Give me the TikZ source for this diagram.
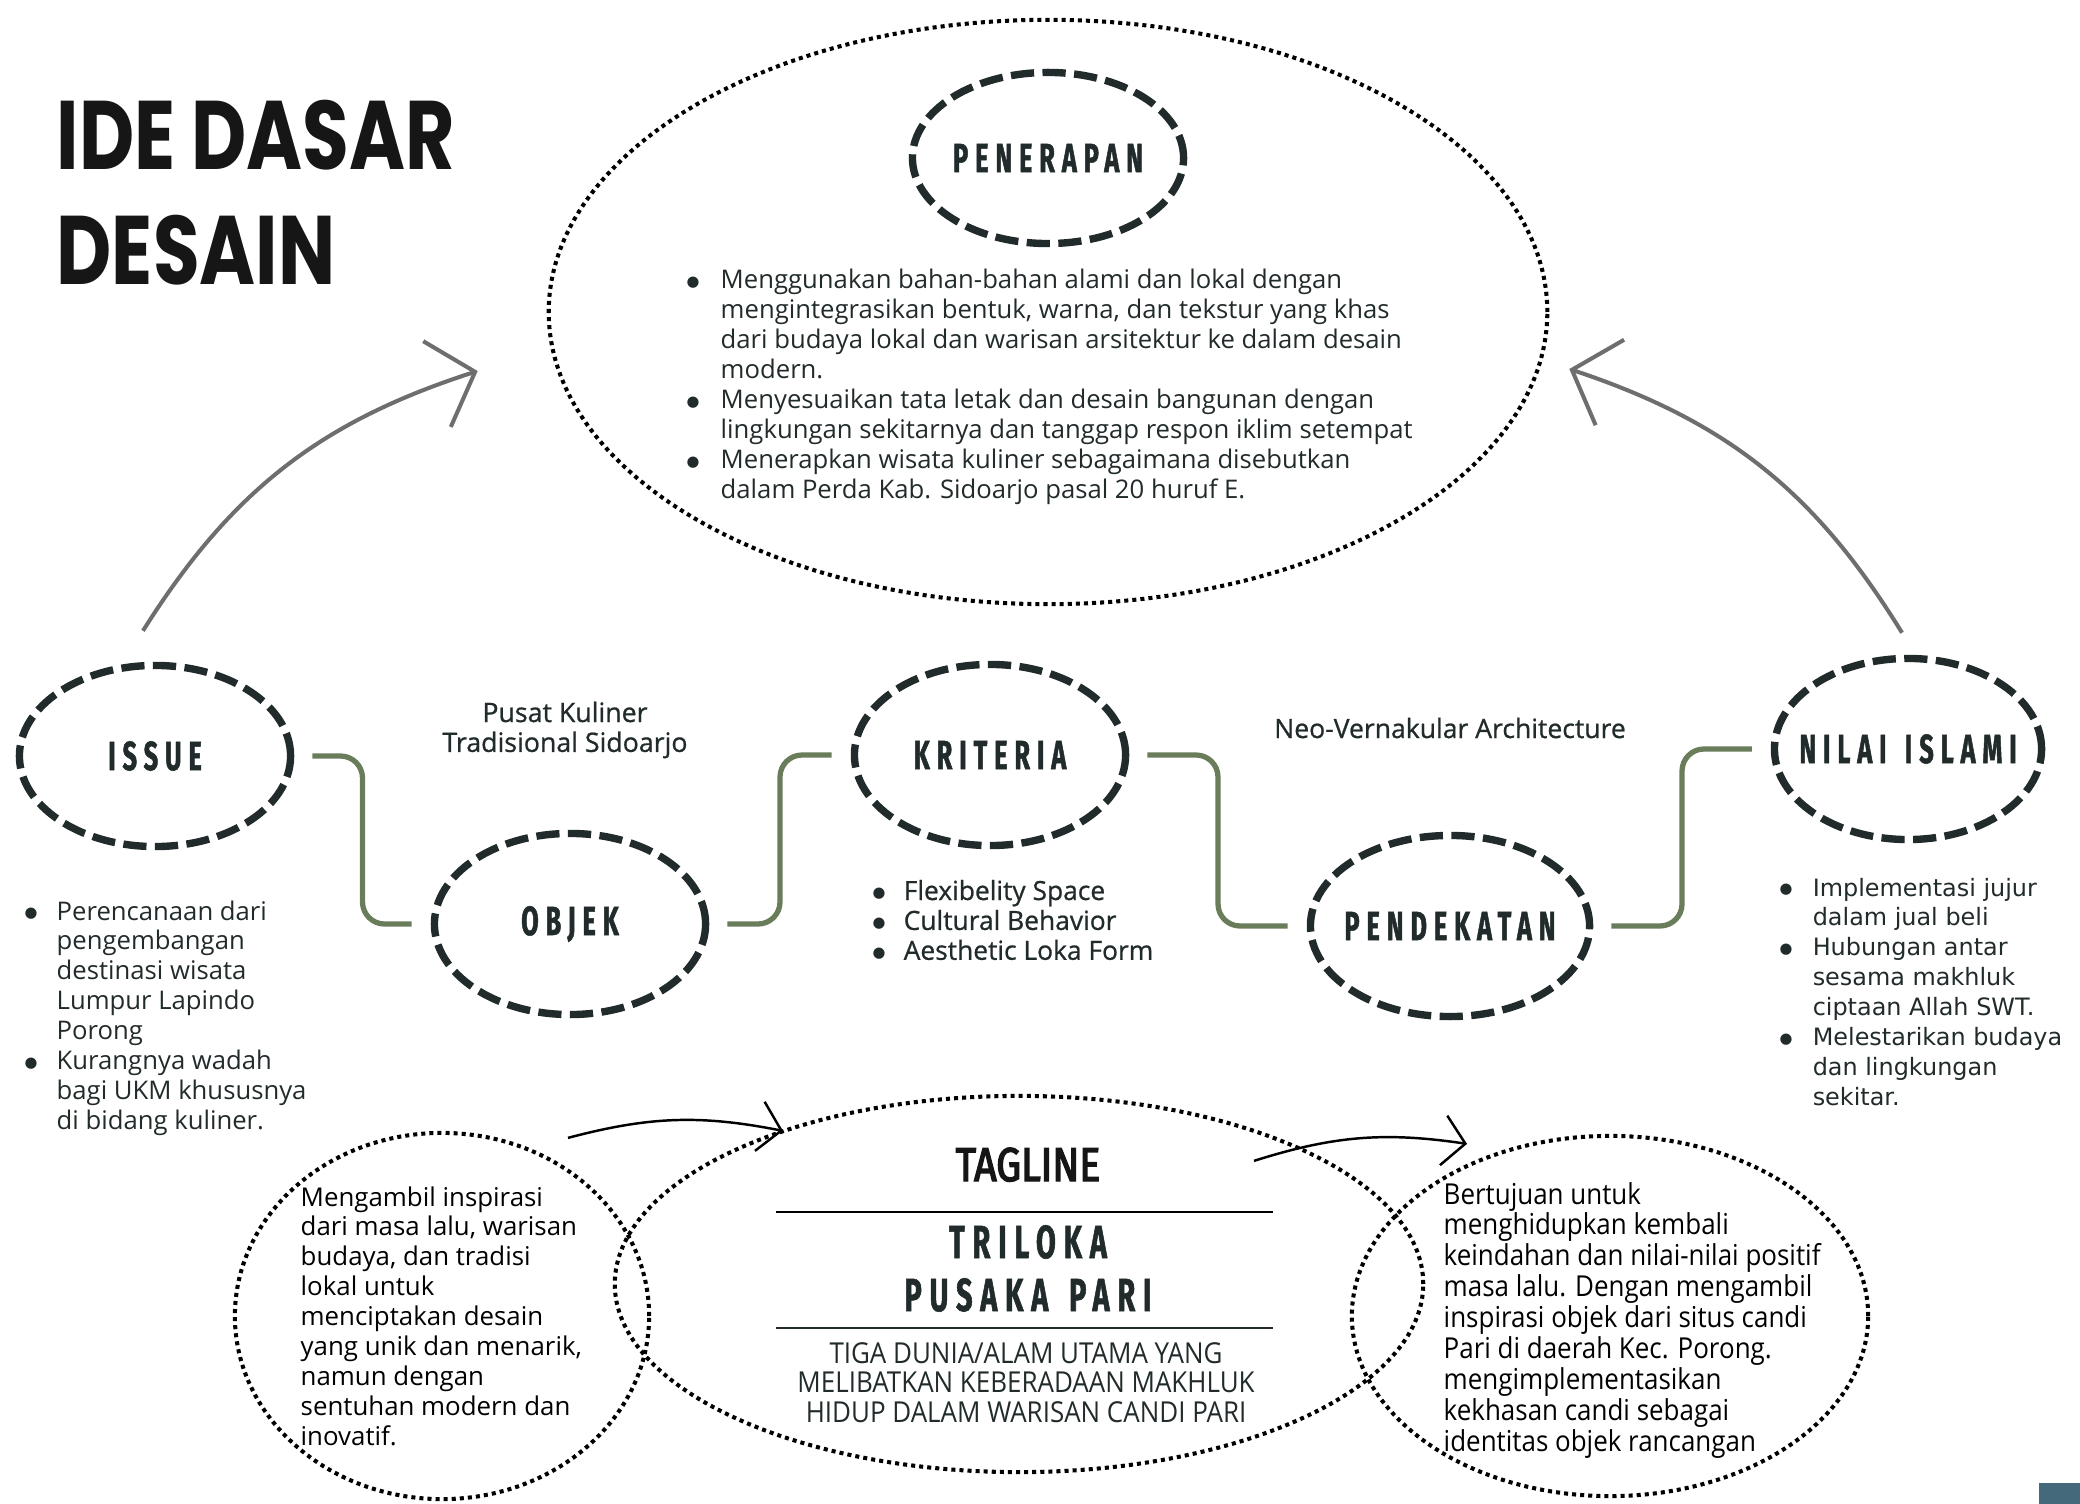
\documentclass[tikz,border=0pt]{standalone}
\usepackage{fontspec}
\setmainfont{Open Sans}
\newfontfamily\judulfont{Poppins}[FakeStretch=0.78]
\newfontfamily\kepala{Fira Sans}[FakeStretch=0.62,LetterSpace=17,FakeBold=1.2]
\newfontfamily\tebal{Fira Sans}[FakeStretch=0.83,FakeBold=3]
\newfontfamily\sempit{Open Sans}[FakeStretch=0.9]
\newfontfamily\agaktebal{Open Sans}[FakeBold=0.8]
\newfontfamily\deja{DejaVu Sans}
\usepackage{tikz}
\usetikzlibrary{calc,positioning,arrows.meta,shapes.geometric}
\definecolor{tinta}{HTML}{222B2B}
\definecolor{hitam}{HTML}{161616}
\definecolor{hijau}{HTML}{6A7D5B}
\definecolor{abu}{HTML}{6E6E6E}
\definecolor{biru}{HTML}{44697A}
\newcommand\bt{\raisebox{0.6pt}{\deja\fontsize{4.2}{5}\selectfont ●}}
\newcommand\jeda{\hspace{0.45em}}

\begin{document}
\begin{tikzpicture}[x=0.01cm,y=-0.01cm,
    lingkar/.style={ellipse, draw=tinta, line width=2.1pt, dash pattern=on 6.6pt off 2.4pt,
      minimum width=2.71cm, minimum height=1.81cm, inner sep=0pt, text=tinta,
      font=\kepala\bfseries\fontsize{11.6}{14}\selectfont},
    titik/.style={ellipse, draw=black, line width=1.15pt, dash pattern=on 1.15pt off 1.15pt, inner sep=0pt},
    garis/.style={draw=hijau, line width=1.5pt, rounded corners=0.22cm, shorten <=0.18cm, shorten >=0.19cm},
    panah/.style={abu, line width=1.15pt, -{Straight Barb[length=0.4cm,width=0.9cm]}},
    panahkecil/.style={black, line width=0.7pt, -{Straight Barb[length=0.22cm,width=0.5cm]}},
    teks/.style={anchor=base west, inner sep=0pt, text=tinta, font=\fontsize{7.3}{8.5}\selectfont},
    judul/.style={anchor=base west, inner sep=0pt, text=hitam, font=\judulfont\bfseries\fontsize{27.7}{33}\selectfont}]
  \useasboundingbox (0,0) rectangle (2080,1504);

  \node[judul] (judul1) at (56,170) {IDE DASAR};
  \node[judul] (judul2) at (56,285) {DESAIN};

  \node[titik, minimum width=9.98cm, minimum height=5.84cm] (wilayah) at (1048,312) {};
  \node[lingkar, minimum height=1.71cm] (penerapan) at (1048,158) {\makebox[0pt]{PENERAPAN}};
  \node[teks] (daftar) at (686,289) {\begin{tabular}[t]{@{}p{0.34cm}@{}l@{}}
    \bt & Menggunakan bahan-bahan alami dan lokal dengan\\
        & mengintegrasikan bentuk, warna, dan tekstur yang khas\\
        & dari budaya lokal dan warisan arsitektur ke dalam desain\\
        & modern.\\
    \bt & Menyesuaikan tata letak dan desain bangunan dengan\\
        & lingkungan sekitarnya dan tanggap respon iklim setempat\\
    \bt & Menerapkan wisata kuliner sebagaimana disebutkan\\
        & dalam Perda Kab. Sidoarjo pasal 20 huruf E.
  \end{tabular}};

  \node[lingkar] (issue) at (155,756) {ISSUE};
  \node[lingkar] (objek) at (570,924) {OBJEK};
  \node[lingkar] (kriteria) at (990,755) {\makebox[0pt]{KRITERIA}};
  \node[lingkar, minimum width=2.79cm] (pendekatan) at (1450,926) {\makebox[0pt]{PENDEKATAN}};
  \node[lingkar, minimum width=2.67cm] (nilai) at (1908,749) {\makebox[0pt]{NILAI\jeda ISLAMI}};

  \draw[garis] (issue.east) -| ($(issue.east)!0.5!(objek.west)$) |- (objek.west);
  \draw[garis] (objek.east) -| ($(objek.east)!0.5!(kriteria.west)$) |- (kriteria.west);
  \draw[garis] (kriteria.east) -| ($(kriteria.east)!0.5!(pendekatan.west)$) |- (pendekatan.west);
  \draw[garis] (pendekatan.east) -| ($(pendekatan.east)!0.5!(nilai.west)$) |- (nilai.west);

  \draw[panah] ($(issue.north)+(-12,-31)$) to[bend left=20] ($(wilayah.west)+(-69,59)$);
  \draw[panah] ($(nilai.north)+(-6,-22)$) to[bend right=20] ($(wilayah.east)+(20,57)$);

  \node[teks, anchor=base, font=\agaktebal\fontsize{7.6}{8.5}\selectfont] (pusat) at (565,722)
    {\begin{tabular}[t]{@{}c@{}}Pusat Kuliner\\Tradisional Sidoarjo\end{tabular}};
  \node[teks, anchor=base, font=\agaktebal\fontsize{7.55}{8.5}\selectfont] (neo) at (1450,738)
    {Neo-Vernakular Architecture};

  \node[teks] (daftarissue) at (24,920) {\begin{tabular}[t]{@{}p{0.32cm}@{}l@{}}
    \bt & Perencanaan dari\\
        & pengembangan\\
        & destinasi wisata\\
        & Lumpur Lapindo\\
        & Porong\\
    \bt & Kurangnya wadah\\
        & bagi UKM khususnya\\
        & di bidang kuliner.
  \end{tabular}};
  \node[teks, font=\agaktebal\fontsize{7.5}{8.5}\selectfont] (daftarkriteria) at (872,900)
    {\begin{tabular}[t]{@{}p{0.31cm}@{}l@{}}
    \bt & Flexibelity Space\\
    \bt & Cultural Behavior\\
    \bt & Aesthetic Loka Form
  \end{tabular}};
  \node[teks, font=\deja\fontsize{6.8}{8.5}\selectfont] (daftarnilai) at (1779,896)
    {\begin{tabular}[t]{@{}p{0.33cm}@{}l@{}}
    \bt & Implementasi jujur\\
        & dalam jual beli\\
    \bt & Hubungan antar\\
        & sesama makhluk\\
        & ciptaan Allah SWT.\\
    \bt & Melestarikan budaya\\
        & dan lingkungan\\
        & sekitar.
  \end{tabular}};

  \node[titik, minimum width=4.14cm, minimum height=3.66cm] (kiri) at (442,1316) {};
  \node[titik, minimum width=8.08cm, minimum height=3.76cm] (tengah) at (1019,1284) {};
  \node[titik, minimum width=5.16cm, minimum height=3.60cm] (kanan) at (1610,1316) {};

  \node[teks, text=black, font=\fontsize{7.35}{8.5}\selectfont] (inspirasi) at (300,1206) {\begin{tabular}[t]{@{}l@{}}
    Mengambil inspirasi\\
    dari masa lalu, warisan\\
    budaya, dan tradisi\\
    lokal untuk\\
    menciptakan desain\\
    yang unik dan menarik,\\
    namun dengan\\
    sentuhan modern dan\\
    inovatif.
  \end{tabular}};
  \node[teks, text=black, font=\sempit\fontsize{8.2}{8.5}\selectfont] (tujuan) at (1443,1204) {\begin{tabular}[t]{@{}l@{}}
    Bertujuan untuk\\
    menghidupkan kembali\\
    keindahan dan nilai-nilai positif\\
    masa lalu. Dengan mengambil\\
    inspirasi objek dari situs candi\\
    Pari di daerah Kec. Porong.\\
    mengimplementasikan\\
    kekhasan candi sebagai\\
    identitas objek rancangan
  \end{tabular}};

  \node[anchor=base, inner sep=0pt, text=hitam, font=\tebal\fontsize{13.5}{16}\selectfont] (tagline) at (1028,1181) {TAGLINE};
  \node[anchor=base, inner sep=0pt, text=tinta, font=\kepala\bfseries\fontsize{13.2}{16}\selectfont] (triloka) at (1028,1258) {TRILOKA};
  \node[anchor=base, inner sep=0pt, text=tinta, font=\kepala\bfseries\fontsize{13.2}{16}\selectfont] (pusaka) at (1028,1311) {PUSAKA\jeda PARI};
  \draw[line width=0.6pt, black] (776,1212) -- (1273,1212);
  \draw[line width=0.6pt, tinta] (776,1328) -- (1273,1328);
  \node[teks, anchor=base, font=\sempit\fontsize{8.2}{8.5}\selectfont] (makna) at (1026,1363) {\begin{tabular}[t]{@{}c@{}}
    TIGA DUNIA/ALAM UTAMA YANG\\
    MELIBATKAN KEBERADAAN MAKHLUK\\
    HIDUP DALAM WARISAN CANDI PARI
  \end{tabular}};

  \draw[panahkecil] ($(kiri.north)+(126,7)$) to[bend left=13] ($(tengah.north)+(-236,37)$);
  \draw[panahkecil] ($(tengah.north)+(235,67)$) to[bend left=13] ($(kanan.north)+(-143,10)$);

  \fill[biru] (2039,1483) rectangle (2080,1504);
\end{tikzpicture}
\end{document}
